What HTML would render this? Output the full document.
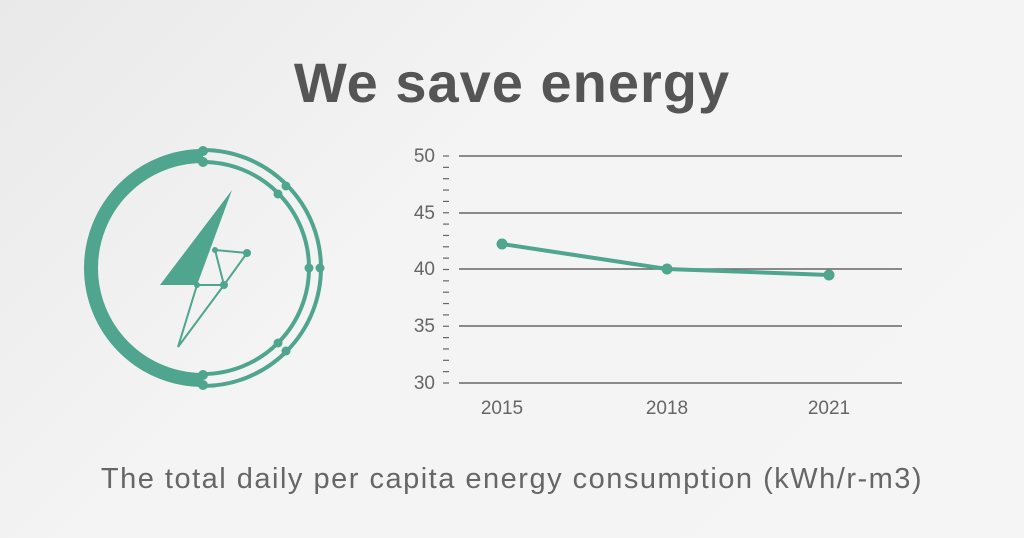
<!DOCTYPE html>
<html><head><style>
body{margin:0;width:1024px;height:538px;background:linear-gradient(135deg,#e9e9e9 0%,#f4f4f4 40%,#f5f5f5 100%);overflow:hidden;font-family:"Liberation Sans",sans-serif}
</style></head><body>
<svg width="1024" height="538" style="position:absolute;left:0;top:0">
<text x="512" y="102" text-anchor="middle" font-size="56" font-weight="bold" fill="#555" letter-spacing="1" font-family="Liberation Sans">We save energy</text>
<g fill="none" stroke="#4fa58d">
<path d="M203 156 A112 112 0 0 0 203 380" stroke-width="14"/>
<path d="M203 150 A118 118 0 0 1 203 386" stroke-width="4"/>
<path d="M203 162 A106 106 0 0 1 203 374" stroke-width="4"/>
</g>
<g fill="#4fa58d">
<circle cx="203" cy="151" r="5"/><circle cx="203" cy="162" r="5"/>
<circle cx="203" cy="375" r="5"/><circle cx="203" cy="385" r="5"/>
<circle cx="286" cy="186" r="4.5"/><circle cx="278" cy="194" r="4.5"/>
<circle cx="286" cy="351" r="4.5"/><circle cx="278" cy="343" r="4.5"/>
<circle cx="309" cy="268" r="4.5"/><circle cx="320" cy="268" r="4.5"/>
<polygon points="232,190 160,285 197,285"/>
<circle cx="247" cy="253" r="4"/><circle cx="224" cy="285" r="4"/><circle cx="197" cy="285" r="3"/><circle cx="215" cy="250" r="3"/>
</g>
<g stroke="#4fa58d" stroke-width="2" fill="none">
<path d="M215 250 L247 253 L224 285 L197 285 L178 347 L224 285 L215 250"/>
</g>
<g stroke="#666" stroke-width="1.5">
<line x1="459" y1="156" x2="902" y2="156"/><line x1="459" y1="213" x2="902" y2="213"/>
<line x1="459" y1="269" x2="902" y2="269"/><line x1="459" y1="326" x2="902" y2="326"/>
<line x1="459" y1="383" x2="902" y2="383"/>
</g>
<g stroke="#666" stroke-width="1.2" id="t"></g>
<g font-size="19" fill="#666" text-anchor="end" font-family="Liberation Sans">
<text x="435" y="162">50</text><text x="435" y="219">45</text><text x="435" y="275">40</text><text x="435" y="332">35</text><text x="435" y="389">30</text>
</g>
<g font-size="19" fill="#666" text-anchor="middle" font-family="Liberation Sans">
<text x="502" y="414">2015</text><text x="667" y="414">2018</text><text x="829" y="414">2021</text>
</g>
<polyline points="502,244 667,269 829,275" fill="none" stroke="#4fa58d" stroke-width="4"/>
<g fill="#4fa58d"><circle cx="502" cy="244" r="5.5"/><circle cx="667" cy="269" r="5.5"/><circle cx="829" cy="275" r="5.5"/></g>
<text x="512" y="488" text-anchor="middle" font-size="29" fill="#666" letter-spacing="1.5" font-family="Liberation Sans">The total daily per capita energy consumption (kWh/r-m3)</text>
</svg>
<script>
var g=document.getElementById('t'),s='';
for(var i=0;i<=20;i++){var y=156+i*11.35;s+='<line x1="443" x2="449" y1="'+y+'" y2="'+y+'"/>';}
g.innerHTML=s;
</script>
</body></html>
